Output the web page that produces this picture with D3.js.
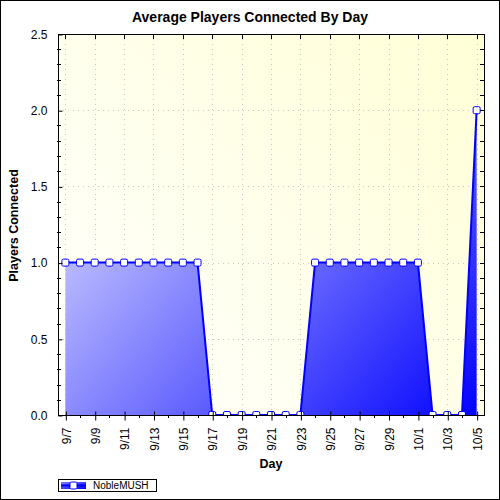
<!DOCTYPE html>
<html>
<head>
<meta charset="utf-8">
<script src="https://cdn.jsdelivr.net/npm/d3@7"></script>
<style>
  body { margin: 0; background: #fff; }
  svg { display: block; font-family: "Liberation Sans", Arial, sans-serif; }
  .tick text { fill: #000; }
</style>
</head>
<body>
<div id="chart"></div>
<script>
// chart data
const days = ["9/7", "9/8", "9/9", "9/10", "9/11", "9/12", "9/13", "9/14", "9/15", "9/16",
  "9/17", "9/18", "9/19", "9/20", "9/21", "9/22", "9/23", "9/24", "9/25", "9/26",
  "9/27", "9/28", "9/29", "9/30", "10/1", "10/2", "10/3", "10/4", "10/5"];
const players = [1, 1, 1, 1, 1, 1, 1, 1, 1, 1,
  0, 0, 0, 0, 0, 0, 0, 1, 1, 1,
  1, 1, 1, 1, 1, 0, 0, 0, 2];
const yTicks = [0, 0.5, 1.0, 1.5, 2.0, 2.5];
const seriesName = "NobleMUSH";

// Step 1: set up the chart
//=========================
const svgWidth = 500, svgHeight = 500;
const plot = { left: 58, top: 34, right: 484, bottom: 415 };
const width = plot.right - plot.left;
const height = plot.bottom - plot.top;

const svg = d3.select("#chart").append("svg")
  .attr("width", svgWidth)
  .attr("height", svgHeight);

const defs = svg.append("defs");

// background gradient of the plot area (white bottom-left -> pale yellow top-right)
const bg = defs.append("linearGradient")
  .attr("id", "bgGrad")
  .attr("gradientUnits", "userSpaceOnUse")
  .attr("x1", plot.left).attr("y1", plot.bottom)
  .attr("x2", plot.right).attr("y2", plot.top);
bg.append("stop").attr("offset", "0%").attr("stop-color", "#ffffff");
bg.append("stop").attr("offset", "100%").attr("stop-color", "#ffffd6");

// area gradient (white top-left -> blue bottom-right)
const ag = defs.append("linearGradient")
  .attr("id", "areaGrad")
  .attr("gradientUnits", "userSpaceOnUse")
  .attr("x1", plot.left).attr("y1", plot.top)
  .attr("x2", plot.right).attr("y2", plot.bottom);
ag.append("stop").attr("offset", "0%").attr("stop-color", "#ffffff");
ag.append("stop").attr("offset", "100%").attr("stop-color", "#0000ff");

const lg = defs.append("linearGradient")
  .attr("id", "legGrad")
  .attr("x1", 0).attr("y1", 0).attr("x2", 1).attr("y2", 1);
lg.append("stop").attr("offset", "0%").attr("stop-color", "#8080ff");
lg.append("stop").attr("offset", "100%").attr("stop-color", "#0000ff");

defs.append("clipPath").attr("id", "plotClip")
  .append("rect")
  .attr("x", plot.left).attr("y", plot.top)
  .attr("width", width).attr("height", height);

// outer border
svg.append("rect")
  .attr("x", 0.5).attr("y", 0.5)
  .attr("width", svgWidth - 1).attr("height", svgHeight - 1)
  .attr("fill", "#fff")
  .attr("stroke", "#000");

// plot background
svg.append("rect")
  .attr("x", plot.left).attr("y", plot.top)
  .attr("width", width).attr("height", height)
  .attr("fill", "url(#bgGrad)");

// Step 2: scales
//=========================
const x = d3.scalePoint()
  .domain(days)
  .range([plot.left, plot.right])
  .padding(0.5);

const y = d3.scaleLinear()
  .domain([0, 2.5])
  .range([plot.bottom, plot.top]);

const majorDays = days.filter((d, i) => i % 2 === 0);
const minorDays = days.filter((d, i) => i % 2 === 1);
const minorY = d3.range(0, 26).map(d => d / 10);

// Step 3: grid
//=========================
svg.append("g")
  .selectAll("line")
  .data(majorDays)
  .join("line")
  .attr("x1", d => Math.round(x(d)) + 0.5)
  .attr("x2", d => Math.round(x(d)) + 0.5)
  .attr("y1", plot.top)
  .attr("y2", plot.bottom)
  .attr("stroke", "#c8c8c8")
  .attr("stroke-dasharray", "1,4");

svg.append("g")
  .selectAll("line")
  .data(yTicks.slice(1, -1))
  .join("line")
  .attr("x1", plot.left)
  .attr("x2", plot.right)
  .attr("y1", d => Math.round(y(d)) + 0.5)
  .attr("y2", d => Math.round(y(d)) + 0.5)
  .attr("stroke", "#c8c8c8")
  .attr("stroke-dasharray", "1,4");

// Step 4: area, line, markers
//=========================
const chartGroup = svg.append("g").attr("clip-path", "url(#plotClip)");

const area = d3.area()
  .x((d, i) => x(days[i]))
  .y0(y(0))
  .y1(d => y(d));

const line = d3.line()
  .x((d, i) => x(days[i]))
  .y(d => y(d));

chartGroup.append("path")
  .attr("d", area(players))
  .attr("fill", "url(#areaGrad)");

chartGroup.append("path")
  .attr("d", line(players))
  .attr("fill", "none")
  .attr("stroke", "#0000ff")
  .attr("stroke-width", 2);

chartGroup.selectAll("rect.marker")
  .data(players)
  .join("rect")
  .attr("class", "marker")
  .attr("x", (d, i) => x(days[i]) - 3.5)
  .attr("y", d => y(d) - 3.5)
  .attr("width", 7)
  .attr("height", 7)
  .attr("rx", 1.5)
  .attr("fill", "#fff")
  .attr("stroke", "#0000ff")
  .attr("stroke-width", 1);

// Step 5: axes
//=========================
// frame
svg.append("rect")
  .attr("x", plot.left + 0.5).attr("y", plot.top + 0.5)
  .attr("width", width).attr("height", height)
  .attr("fill", "none")
  .attr("stroke", "#000");

// bottom axis, major ticks crossing the axis
const xAxis = svg.append("g")
  .attr("transform", `translate(0.5, ${plot.bottom + 0.5})`)
  .call(d3.axisBottom(x).tickValues(majorDays).tickSize(5).tickSizeOuter(0));
xAxis.select(".domain").remove();
xAxis.selectAll(".tick line").attr("y1", -4).attr("stroke", "#000");
xAxis.selectAll(".tick text")
  .attr("font-size", 12)
  .attr("transform", "rotate(-90)")
  .attr("text-anchor", "end")
  .attr("x", -12)
  .attr("y", 0)
  .attr("dy", "0.35em");

// bottom minor ticks
svg.append("g")
  .selectAll("line")
  .data(minorDays)
  .join("line")
  .attr("x1", d => Math.round(x(d)) + 0.5)
  .attr("x2", d => Math.round(x(d)) + 0.5)
  .attr("y1", plot.bottom)
  .attr("y2", plot.bottom + 3)
  .attr("stroke", "#000");

// top ticks pointing inward
svg.append("g")
  .selectAll("line")
  .data(majorDays)
  .join("line")
  .attr("x1", d => Math.round(x(d)) + 0.5)
  .attr("x2", d => Math.round(x(d)) + 0.5)
  .attr("y1", plot.top)
  .attr("y2", plot.top + 5)
  .attr("stroke", "#000");

// left axis
const yAxis = svg.append("g")
  .attr("transform", `translate(${plot.left + 0.5}, 0.5)`)
  .call(d3.axisLeft(y).tickValues(yTicks).tickFormat(d3.format(".1f")).tickSize(4).tickSizeOuter(0));
yAxis.select(".domain").remove();
yAxis.selectAll(".tick line").attr("x2", 4).attr("stroke", "#000");
yAxis.selectAll(".tick text")
  .attr("font-size", 12)
  .attr("x", -11);

// left minor ticks
svg.append("g")
  .selectAll("line")
  .data(minorY.filter(d => Math.round(d * 10) % 5 !== 0))
  .join("line")
  .attr("x1", plot.left - 1)
  .attr("x2", plot.left + 3)
  .attr("y1", d => Math.round(y(d)) + 0.5)
  .attr("y2", d => Math.round(y(d)) + 0.5)
  .attr("stroke", "#000");

// right ticks pointing inward
svg.append("g")
  .selectAll("line")
  .data(minorY)
  .join("line")
  .attr("x1", plot.right - 4)
  .attr("x2", plot.right)
  .attr("y1", d => Math.round(y(d)) + 0.5)
  .attr("y2", d => Math.round(y(d)) + 0.5)
  .attr("stroke", "#000");

// Step 6: titles
//=========================
svg.append("text")
  .attr("x", 250)
  .attr("y", 22)
  .attr("text-anchor", "middle")
  .attr("font-size", 14)
  .attr("font-weight", "bold")
  .text("Average Players Connected By Day");

svg.append("text")
  .attr("transform", `translate(18, ${(plot.top + plot.bottom) / 2 + 1}) rotate(-90)`)
  .attr("text-anchor", "middle")
  .attr("font-size", 12.5)
  .attr("font-weight", "bold")
  .text("Players Connected");

svg.append("text")
  .attr("x", (plot.left + plot.right) / 2)
  .attr("y", 468)
  .attr("text-anchor", "middle")
  .attr("font-size", 12.5)
  .attr("font-weight", "bold")
  .text("Day");

// Step 7: legend
//=========================
const legend = svg.append("g").attr("transform", "translate(58, 479)");
legend.append("rect")
  .attr("x", 0.5).attr("y", 0.5)
  .attr("width", 98).attr("height", 12)
  .attr("fill", "#fff")
  .attr("stroke", "#000");
legend.append("rect")
  .attr("x", 3).attr("y", 3)
  .attr("width", 25).attr("height", 7)
  .attr("fill", "url(#legGrad)");
legend.append("line")
  .attr("x1", 3).attr("x2", 28)
  .attr("y1", 6.5).attr("y2", 6.5)
  .attr("stroke", "#0000ff")
  .attr("stroke-width", 2);
legend.append("rect")
  .attr("x", 12).attr("y", 3)
  .attr("width", 7).attr("height", 7)
  .attr("rx", 1.5)
  .attr("fill", "#fff")
  .attr("stroke", "#0000ff");
legend.append("text")
  .attr("x", 35)
  .attr("y", 10)
  .attr("font-size", 10)
  .text(seriesName);
</script>
</body>
</html>
